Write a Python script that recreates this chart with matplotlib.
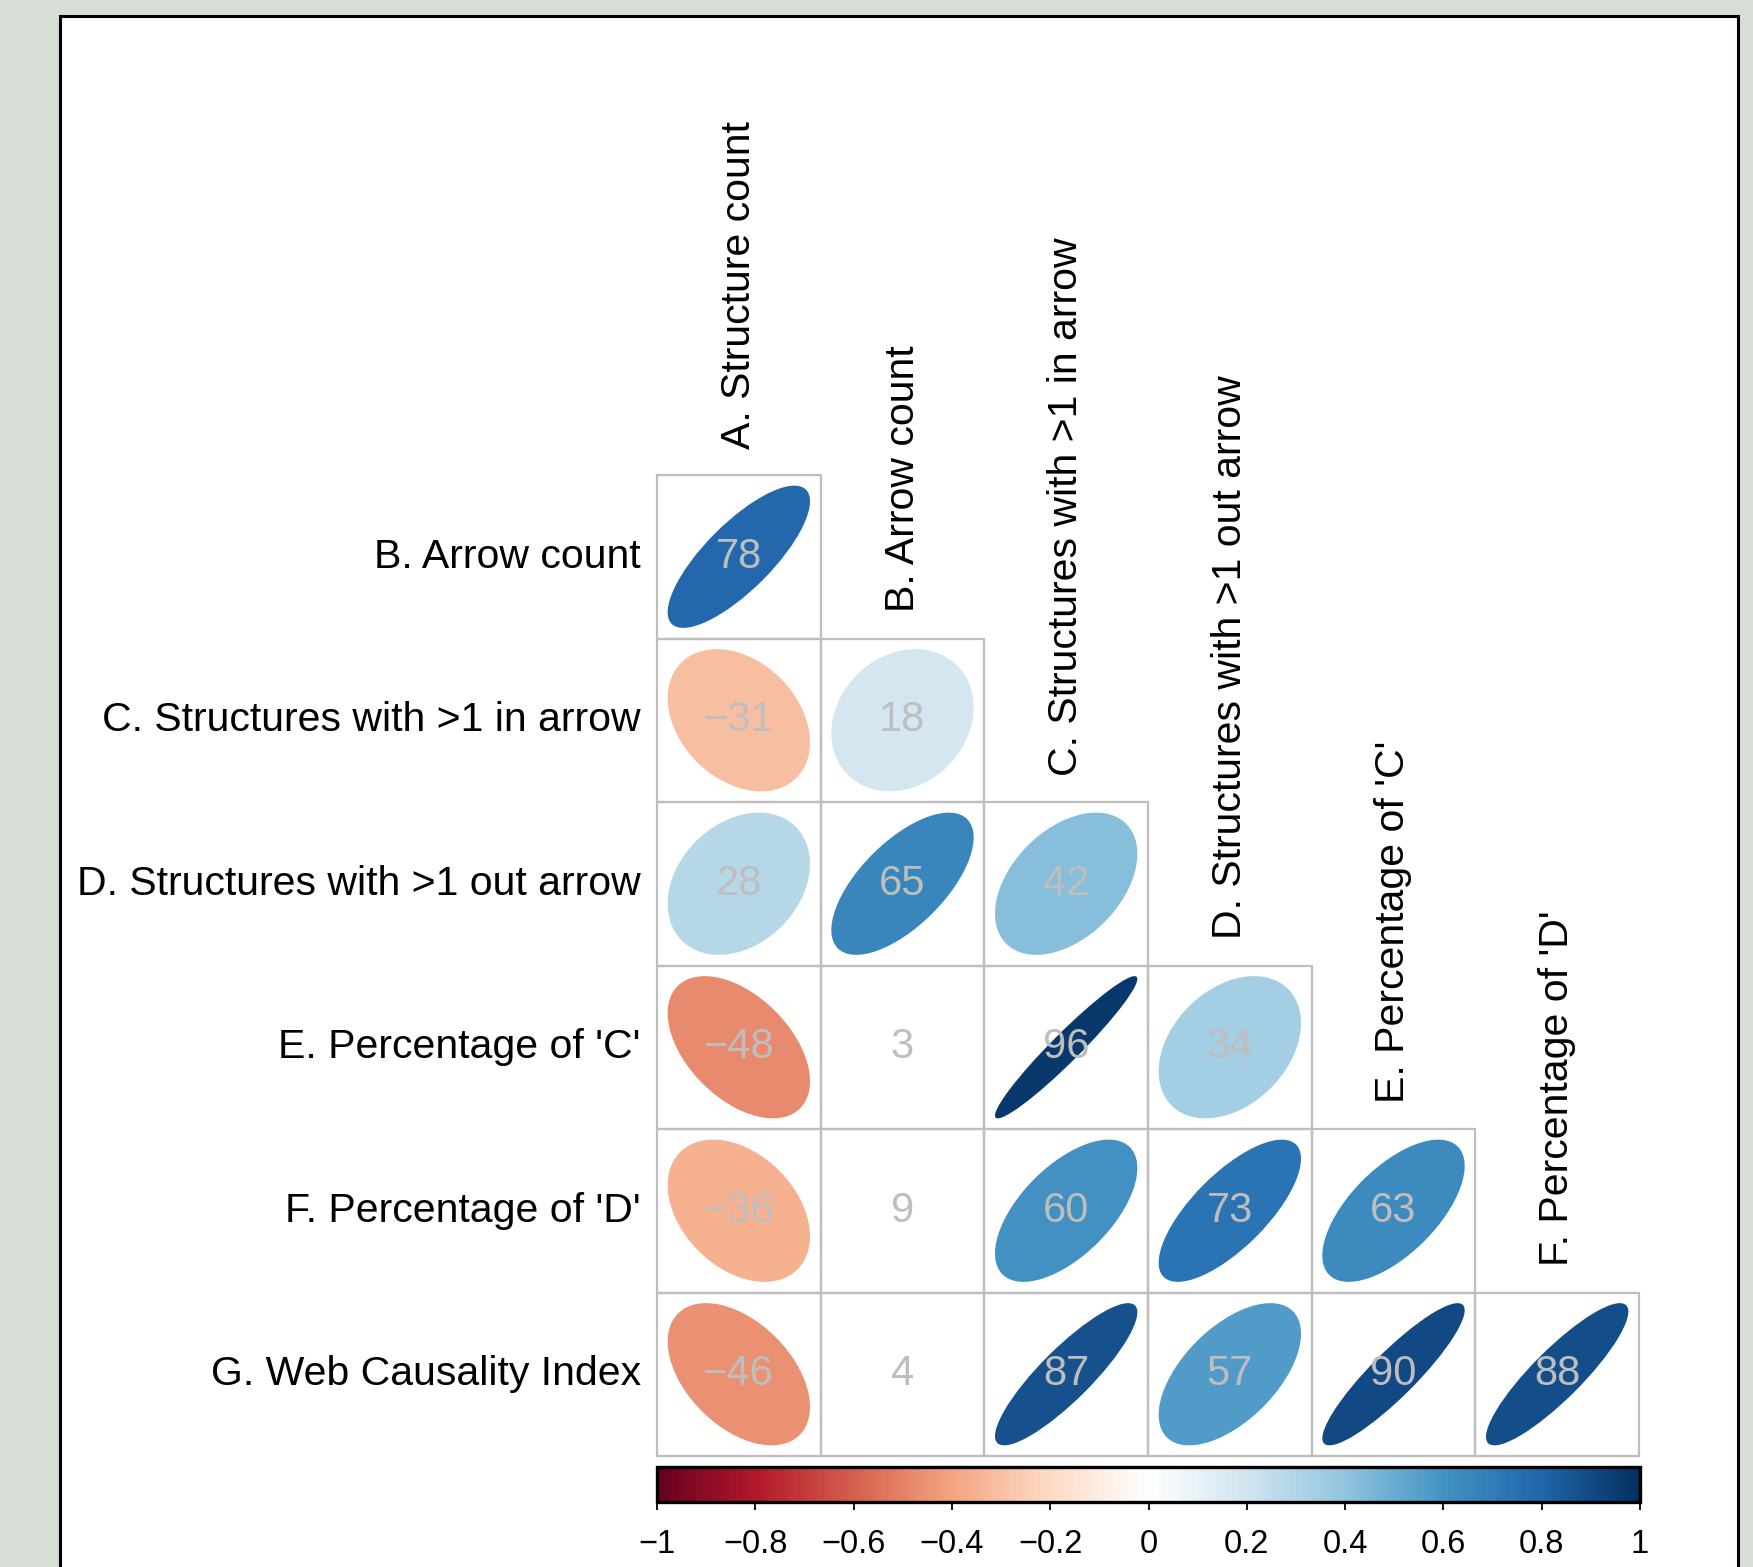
import numpy as np
import matplotlib.pyplot as plt
from matplotlib.colors import LinearSegmentedColormap, Normalize
from matplotlib.patches import Ellipse, Rectangle
import matplotlib as mpl

plt.rcParams['font.family'] = ['Liberation Sans', 'DejaVu Sans']

# variables
col_names = ["A. Structure count", "B. Arrow count", "C. Structures with >1 in arrow",
             "D. Structures with >1 out arrow", "E. Percentage of 'C'", "F. Percentage of 'D'"]
row_names = ["B. Arrow count", "C. Structures with >1 in arrow", "D. Structures with >1 out arrow",
             "E. Percentage of 'C'", "F. Percentage of 'D'", "G. Web Causality Index"]

# lower triangle correlations (x100), one list per row
corr_b = [78]
corr_c = [-31, 18]
corr_d = [28, 65, 42]
corr_e = [-48, 3, 96, 34]
corr_f = [-36, 9, 60, 73, 63]
corr_g = [-46, 4, 87, 57, 90, 88]
lower = [corr_b, corr_c, corr_d, corr_e, corr_f, corr_g]

# cells left blank (not significant), as (row, col)
insig = [(3, 1), (4, 1), (5, 1)]

cbar_ticks = [-1, -0.8, -0.6, -0.4, -0.2, 0, 0.2, 0.4, 0.6, 0.8, 1]

rdbu = ["#67001F", "#B2182B", "#D6604D", "#F4A582", "#FDDBC7", "#FFFFFF",
        "#D1E5F0", "#92C5DE", "#4393C3", "#2166AC", "#053061"]
cmap = LinearSegmentedColormap.from_list("corr", rdbu, N=200)
norm = Normalize(-1, 1)
grid_col = "#BEBEBE"

W, H = 1753, 1567
fig = plt.figure(figsize=(W / 100, H / 100), dpi=100, facecolor="#d6ded6")

# white panel
panel = Rectangle((60 / W, -0.02), (1738 - 60) / W, 1 - 16 / H + 0.02,
                  transform=fig.transFigure, facecolor="white",
                  edgecolor="black", linewidth=2.2, zorder=-10)
fig.add_artist(panel)

n = len(row_names)
ax = fig.add_axes([657 / W, 1 - 1456 / H, 982 / W, 981 / H])
ax.set_zorder(1)
ax.set_xlim(0, n)
ax.set_ylim(0, n)
ax.axis("off")

for i, row in enumerate(lower):
    y = n - i - 0.5
    for j, v in enumerate(row):
        x = j + 0.5
        r = v / 100
        if (i, j) not in insig:
            a = np.arccos(r) / 2
            w = 2 * 0.87 * np.cos(a) / np.sqrt(2)
            h = 2 * 0.87 * np.sin(a) / np.sqrt(2)
            ax.add_patch(Ellipse((x, y), w, h, angle=45, facecolor=cmap(norm(r)),
                                 edgecolor="none", zorder=1))
        ax.add_patch(Rectangle((j, n - i - 1), 1, 1, fill=False, edgecolor=grid_col,
                               linewidth=1.6, zorder=2, clip_on=False))
        ax.text(x, y, str(v).replace("-", "\u2212"), ha="center", va="center",
                fontsize=30, color=grid_col, zorder=3)

for i, name in enumerate(row_names):
    ax.text(-0.1, n - i - 0.5, name, ha="right", va="center", fontsize=29.5,
            color="black", clip_on=False)

for j, name in enumerate(col_names):
    ax.text(j + 0.5, n - j + 0.16, name, ha="center", va="bottom", rotation=90,
            fontsize=29.5, color="black", clip_on=False)

# colour bar
cax = fig.add_axes([657 / W, 1 - 1502 / H, 983 / W, 35 / H])
cax.set_zorder(1)
sm = mpl.cm.ScalarMappable(norm=norm, cmap=cmap)
cb = fig.colorbar(sm, cax=cax, orientation="horizontal")
cb.outline.set_linewidth(2.4)
cb.outline.set_edgecolor("black")
cb.set_ticks(cbar_ticks)
cb.set_ticklabels([("%g" % t).replace("-", "\u2212") for t in cbar_ticks])
cax.tick_params(axis="x", length=5.5, width=1.3, color="black", labelsize=23.5, pad=14)

fig.savefig("out.png", dpi=100, facecolor=fig.get_facecolor())
